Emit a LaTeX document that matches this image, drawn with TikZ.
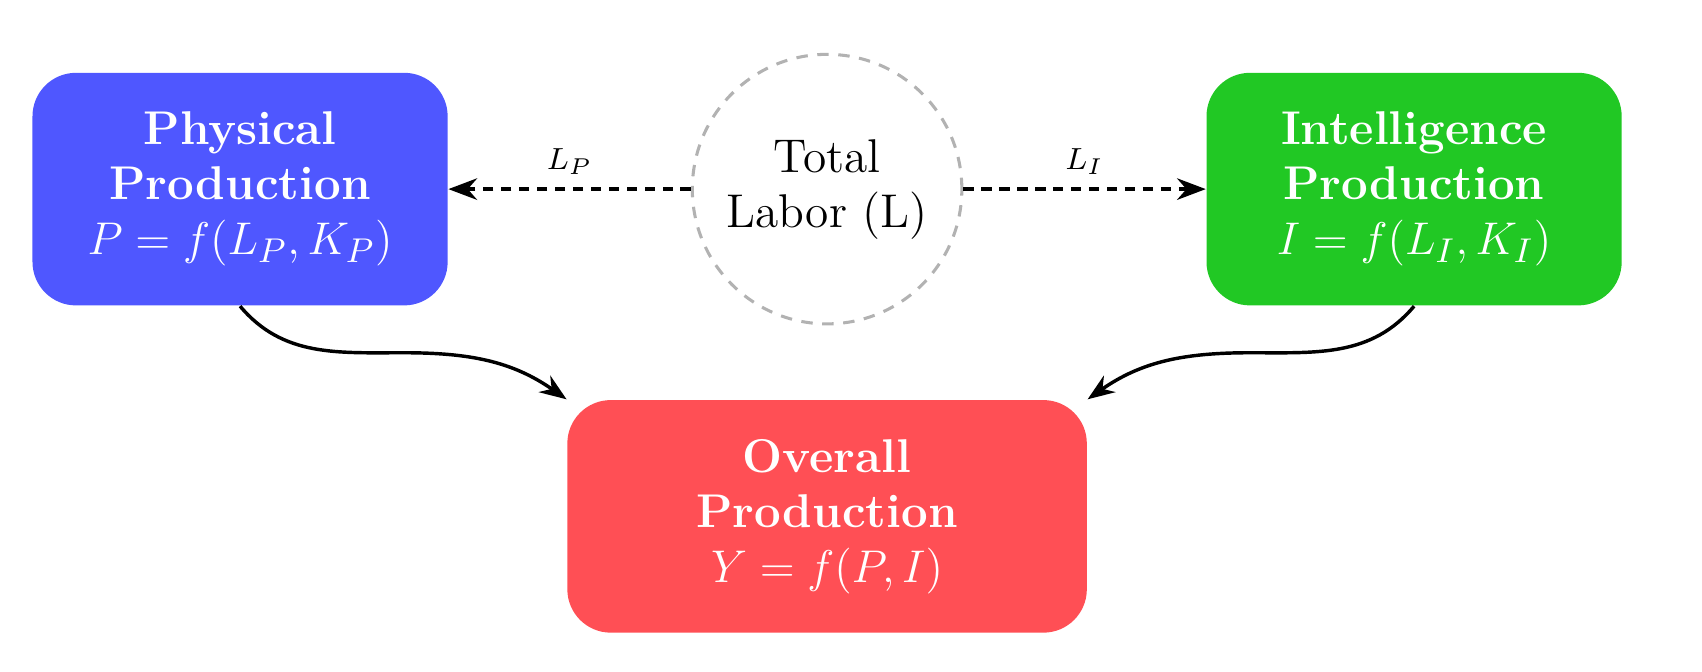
\documentclass[tikz,border=0pt]{standalone}
\usetikzlibrary{arrows.meta,positioning,calc}
\definecolor{physblue}{RGB}{79,87,255}
\definecolor{intgreen}{RGB}{33,200,36}
\definecolor{overred}{RGB}{255,79,85}

\begin{document}
\begin{tikzpicture}[font=\fontsize{12.4}{14.4}\selectfont,>=Stealth,
  box/.style={rounded corners=4mm,text=white,align=center,minimum width=38.2mm,minimum height=21.4mm},
  pool/.style={circle,draw=gray!60,thick,dash pattern=on 3pt off 2.5pt,minimum size=24.8mm,align=center},
  share/.style={->,line width=1pt,dash pattern=on 2.7pt off 2pt},
  feed/.style={->,line width=0.9pt},
  lbl/.style={font=\footnotesize}]
\useasboundingbox (0,0) rectangle (15.66,-6.18);
\node[pool] (lab) at (7.61,-1.74) {Total\\Labor (L)};
\node[box,fill=physblue,left=22.3mm of lab] (phys) {\textbf{Physical}\\\textbf{Production}\\$P=f(L_P,K_P)$};
\node[box,fill=intgreen,right=22.3mm of lab] (int) {\textbf{Intelligence}\\\textbf{Production}\\$I=f(L_I,K_I)$};
\node[box,fill=overred,minimum width=47.8mm,below=6.8mm of lab] (over) {\textbf{Overall}\\\textbf{Production}\\$Y=f(P,I)$};
% labor split
\draw[share] (lab.west) -- node[lbl,midway,above] (lp) {$L_P$} (phys.east);
\draw[share] (lab.east) -- node[lbl,midway,above] (li) {$L_I$} (int.west);
% outputs into Y
\coordinate (pmid) at ($(phys.south)!0.5!(over.north west)$);
\coordinate (imid) at ($(int.south)!0.5!(over.north east)$);
\draw[feed] (phys.south) to[out=-50,in=180] (pmid) to[out=0,in=145] (over.north west);
\draw[feed] (int.south) to[out=-130,in=0] (imid) to[out=180,in=35] (over.north east);
\end{tikzpicture}
\end{document}
